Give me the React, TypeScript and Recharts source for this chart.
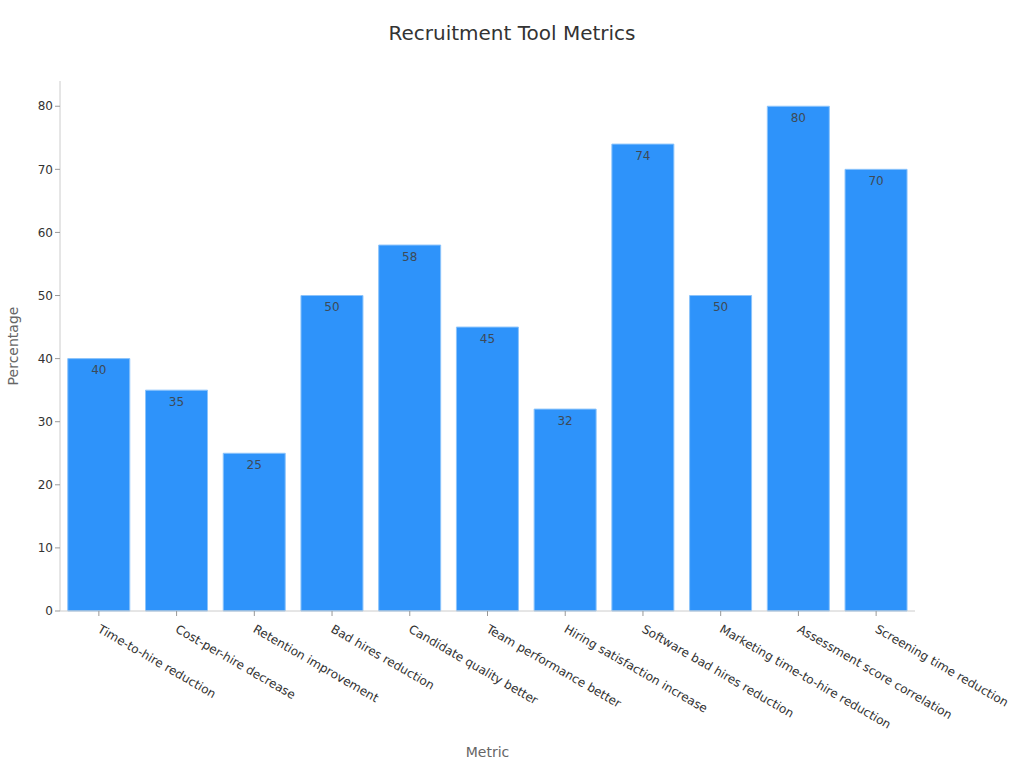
import { Bar, BarChart, LabelList, XAxis, YAxis } from "recharts";

const metrics = [
  "Time-to-hire reduction",
  "Cost-per-hire decrease",
  "Retention improvement",
  "Bad hires reduction",
  "Candidate quality better",
  "Team performance better",
  "Hiring satisfaction increase",
  "Software bad hires reduction",
  "Marketing time-to-hire reduction",
  "Assessment score correlation",
  "Screening time reduction",
];

const percentages = [40, 35, 25, 50, 58, 45, 32, 74, 50, 80, 70];

const yTicks = [0, 10, 20, 30, 40, 50, 60, 70, 80];

const chartData = metrics.map((metric, i) => ({ metric, value: percentages[i] }));

const font = "'DejaVu Sans', Verdana, sans-serif";

const AngledTick = (props: any) => {
  const { x, y, payload } = props;
  return (
    <g transform={`translate(${x},${y + 10})`}>
      <text
        x={0}
        y={0}
        dy={4}
        transform="rotate(30)"
        textAnchor="start"
        fill="#333"
        fontSize={12}
        fontFamily={font}
      >
        {payload.value}
      </text>
    </g>
  );
};

export default function App() {
  return (
    <div
      style={{
        position: "absolute",
        left: 0,
        top: 0,
        width: 1024,
        height: 768,
        background: "#fff",
        fontFamily: font,
      }}
    >
      <div
        style={{
          position: "absolute",
          top: 21,
          left: 0,
          width: 1024,
          textAlign: "center",
          fontSize: 20,
          color: "#333",
        }}
      >
        Recruitment Tool Metrics
      </div>
      <BarChart
        width={1024}
        height={768}
        data={chartData}
        margin={{ top: 81, right: 109, bottom: 0, left: 0 }}
        barCategoryGap="10%"
      >
        <XAxis
          dataKey="metric"
          interval={0}
          height={157}
          tick={<AngledTick />}
          tickLine={{ stroke: "#999" }}
          tickSize={5}
          axisLine={{ stroke: "#ccc" }}
          label={{
            value: "Metric",
            position: "insideBottom",
            offset: 11,
            fill: "#666",
            fontSize: 14,
            fontFamily: font,
          }}
        />
        <YAxis
          width={60}
          domain={[0, 84]}
          ticks={yTicks}
          tick={{ fill: "#333", fontSize: 12, fontFamily: font }}
          tickLine={{ stroke: "#999" }}
          tickSize={5}
          axisLine={{ stroke: "#ccc" }}
          label={{
            value: "Percentage",
            angle: -90,
            position: "insideLeft",
            offset: 13,
            textAnchor: "middle",
            fill: "#666",
            fontSize: 14,
            fontFamily: font,
          }}
        />
        <Bar
          dataKey="value"
          fill="#2e93fa"
          stroke="#8cc4fb"
          strokeWidth={1}
          isAnimationActive={false}
        >
          <LabelList
            dataKey="value"
            position="insideTop"
            offset={7}
            fill="#3d4a57"
            fontSize={12}
            fontFamily={font}
          />
        </Bar>
      </BarChart>
    </div>
  );
}
